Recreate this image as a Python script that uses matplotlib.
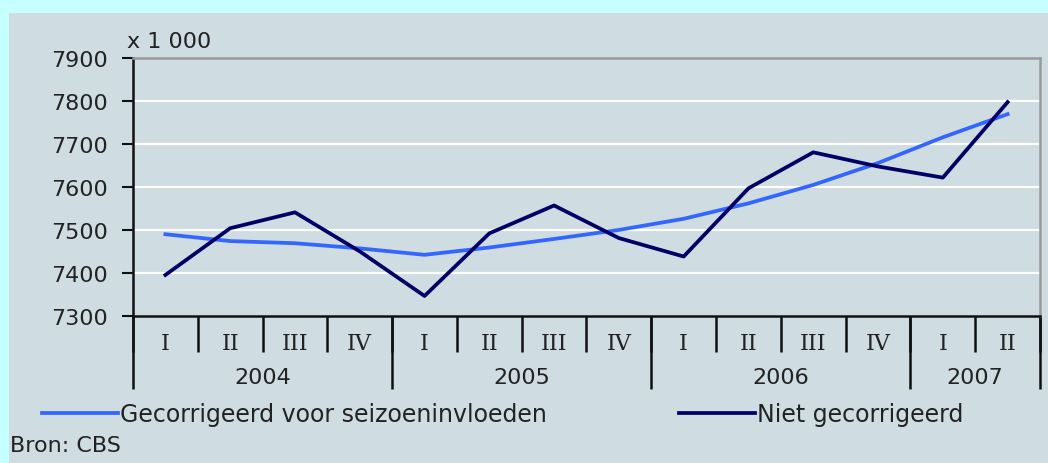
import matplotlib.pyplot as plt
from matplotlib.patches import Rectangle

# data (x 1 000)
quarters = ['I', 'II', 'III', 'IV', 'I', 'II', 'III', 'IV', 'I', 'II', 'III', 'IV', 'I', 'II']
years = ['2004', '2005', '2006', '2007']
quarters_per_year = [4, 4, 4, 2]
gecorrigeerd = [7490, 7474, 7469, 7457, 7442, 7459, 7479, 7500,
                7526, 7562, 7605, 7656, 7716, 7770]
niet_gecorrigeerd = [7395, 7504, 7541, 7450, 7346, 7492, 7557, 7481,
                     7438, 7597, 7681, 7648, 7622, 7798]

plt.rcParams['font.family'] = ['DejaVu Sans']
txt = '#222222'

fig = plt.figure(figsize=(10.48, 4.64), dpi=100)
fig.patch.set_facecolor('#c6ffff')
panel = Rectangle((9 / 1048, 0), 1, 1 - 14 / 464, transform=fig.transFigure,
                  facecolor='#cfdce1', edgecolor='none', zorder=-10)
fig.add_artist(panel)

ax = fig.add_axes([133 / 1048, 1 - 316.7 / 464, (1040 - 133) / 1048, (316.7 - 59.4) / 464])
ax.set_facecolor('#cfdce1')

x = list(range(len(quarters)))
ax.plot(x, gecorrigeerd, color='#3366ff', lw=2.7,
        label='Gecorrigeerd voor seizoeninvloeden', zorder=3)
ax.plot(x, niet_gecorrigeerd, color='#000066', lw=2.7,
        label='Niet gecorrigeerd', zorder=4)

ax.set_xlim(-0.5, len(quarters) - 0.5)
ax.set_ylim(7300, 7900)
ax.set_yticks(range(7300, 8000, 100))
ax.tick_params(axis='y', length=8, width=1.5, pad=10, labelsize=16, colors=txt)
ax.tick_params(axis='y', color='#111111')
for v in range(7400, 7900, 100):
    ax.axhline(v, color='white', lw=1.6, zorder=1)

for s in ['left', 'bottom']:
    ax.spines[s].set_color('#111111')
    ax.spines[s].set_linewidth(1.8)
for s in ['top', 'right']:
    ax.spines[s].set_color('#9a9a9a')
    ax.spines[s].set_linewidth(1.8)

# quarter separators and labels
ax.set_xticks([i - 0.5 for i in range(len(quarters) + 1)])
ax.set_xticklabels([])
ax.tick_params(axis='x', length=26, width=1.8, color='#111111')
ax.set_xticks(x, minor=True)
ax.set_xticklabels(quarters, minor=True, fontsize=16, family='DejaVu Serif', color=txt)
ax.tick_params(axis='x', which='minor', length=0, pad=12)

# year separators and labels
xt = ax.get_xaxis_transform()
start = -0.5
bounds = [start]
for y, n in zip(years, quarters_per_year):
    ax.text(start + n / 2, -0.24, y, transform=xt, ha='center', va='center',
            fontsize=16, color=txt)
    start += n
    bounds.append(start)
ax.vlines(bounds, -0.285, 0, transform=xt, color='#111111', lw=1.8, clip_on=False)

fig.text(127 / 1048, 1 - 42 / 464, 'x 1 000', ha='left', va='center', fontsize=16, color=txt)

leg = fig.legend(loc='center left', bbox_to_anchor=(42 / 1048, 1 - 415 / 464), ncol=2,
                 frameon=False, fontsize=17, handlelength=3.2, handletextpad=0.1,
                 columnspacing=5.62, borderpad=0, borderaxespad=0)
for t in leg.get_texts():
    t.set_color(txt)

fig.text(10 / 1048, 1 - 446 / 464, 'Bron: CBS', ha='left', va='center', fontsize=16, color=txt)

fig.savefig('out.png', dpi=100, facecolor=fig.get_facecolor())
